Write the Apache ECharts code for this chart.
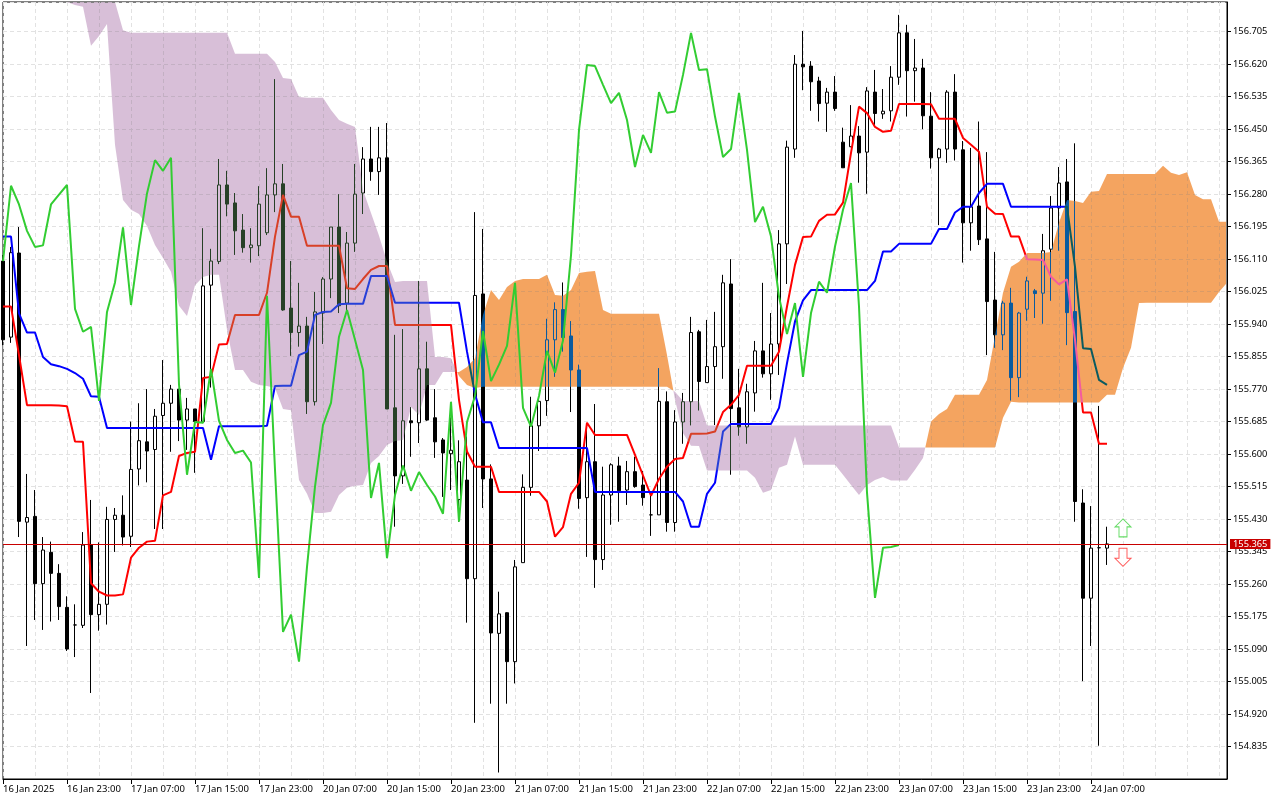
<!DOCTYPE html>
<html><head><meta charset="utf-8">
<style>html,body{margin:0;padding:0;background:#fff}#c{width:1280px;height:800px}</style>
<script src="https://cdn.jsdelivr.net/npm/echarts@6/dist/echarts.min.js"></script>
</head><body><div id="c"></div>
<script>
const timeLabels = ['16 Jan 2025','16 Jan 23:00','17 Jan 07:00','17 Jan 15:00','17 Jan 23:00','20 Jan 07:00','20 Jan 15:00','20 Jan 23:00','21 Jan 07:00','21 Jan 15:00','21 Jan 23:00','22 Jan 07:00','22 Jan 15:00','22 Jan 23:00','23 Jan 07:00','23 Jan 15:00','23 Jan 23:00','24 Jan 07:00'];
const lastPrice = 155.365;
const opens = [156.105,155.906,156.126,155.422,155.437,155.261,155.343,155.288,155.199,155.153,
155.152,155.362,155.180,155.207,155.429,155.440,155.385,155.561,155.632,155.612,
155.701,155.733,155.770,155.689,155.718,155.685,156.042,156.104,156.304,156.257,
156.186,156.140,156.145,156.179,156.278,156.307,155.982,155.918,155.935,155.737,
155.969,156.058,156.194,155.995,156.152,156.283,156.372,156.339,156.375,155.721,
155.543,155.687,155.682,155.823,155.695,155.637,155.601,155.481,155.532,155.274,
156.019,155.535,155.131,155.185,155.057,155.316,155.513,155.674,155.740,155.899,
155.978,155.909,155.820,155.486,155.580,155.324,155.493,155.569,155.506,155.554,
155.519,155.441,155.441,155.737,155.421,155.684,155.737,155.920,155.787,155.829,
155.881,156.045,155.721,155.671,155.760,155.870,155.810,155.888,156.150,156.398,
156.620,156.615,156.576,156.518,156.547,156.416,156.404,156.432,156.390,156.547,
156.490,156.498,156.586,156.702,156.603,156.610,156.484,156.375,156.398,156.547,
156.396,156.205,156.249,156.163,156.003,155.912,155.995,155.800,155.979,156.027,
156.021,156.136,156.244,156.312,155.973,155.472,155.223,155.355,155.354];
const closes = [155.899,156.127,155.424,155.434,155.261,155.349,155.288,155.201,155.090,155.153,
155.362,155.180,155.207,155.429,155.440,155.383,155.560,155.635,155.608,155.699,
155.733,155.770,155.689,155.718,155.685,156.040,156.105,156.304,156.254,156.184,
156.140,156.147,156.254,156.278,156.307,155.977,155.918,155.935,155.737,155.972,
156.058,156.194,155.988,156.152,156.280,156.372,156.339,156.375,155.718,155.543,
155.687,155.682,155.823,155.689,155.632,155.603,155.610,155.580,155.274,156.015,
155.535,155.132,155.182,155.057,155.305,155.513,155.674,155.738,155.899,155.978,
155.905,155.820,155.484,155.580,155.324,155.493,155.572,155.504,155.554,155.515,
155.486,155.441,155.738,155.421,155.684,155.737,155.918,155.790,155.829,155.881,
156.048,155.719,155.671,155.763,155.870,155.810,155.888,156.150,156.403,156.620,
156.613,156.574,156.517,156.547,156.504,156.349,156.432,156.388,156.550,156.491,
156.497,156.586,156.702,156.603,156.610,156.485,156.375,156.398,156.547,156.398,
156.205,156.247,156.161,155.999,155.912,155.995,155.800,155.969,156.053,156.020,
156.132,156.244,156.309,155.970,155.476,155.223,155.354,155.355,155.365];
const highs = [156.121,156.142,156.194,155.548,155.506,155.383,155.371,155.312,155.228,155.207,
155.396,155.480,155.369,155.462,155.459,155.492,155.685,155.733,155.770,155.718,
155.846,155.781,155.770,155.747,155.718,156.191,156.137,156.372,156.341,156.283,
156.228,156.191,156.301,156.348,156.581,156.359,156.105,156.048,155.959,156.024,
156.063,156.194,156.280,156.181,156.359,156.403,156.456,156.456,156.466,155.912,
155.927,155.723,156.053,155.894,155.770,155.642,155.696,155.636,155.646,156.233,
156.189,155.573,155.240,155.186,155.323,155.547,155.750,155.752,155.954,155.997,
156.049,155.948,155.834,155.666,155.731,155.567,155.576,155.593,155.582,155.593,
155.556,155.496,155.825,155.764,155.715,155.760,155.959,155.925,155.951,155.972,
156.069,156.110,155.823,155.784,155.896,156.048,155.969,156.186,156.420,156.644,
156.707,156.628,156.587,156.558,156.589,156.454,156.513,156.458,156.560,156.605,
156.555,156.615,156.749,156.723,156.686,156.634,156.547,156.401,156.552,156.594,
156.419,156.401,156.470,156.390,156.129,156.001,156.035,155.972,156.064,156.032,
156.176,156.275,156.351,156.372,156.413,155.508,155.464,155.726,155.410];
const lows = [155.885,155.891,155.383,155.098,155.166,155.140,155.162,155.166,155.085,155.069,
155.145,154.975,155.138,155.154,155.344,155.361,155.357,155.518,155.526,155.404,
155.404,155.606,155.634,155.611,155.551,155.681,155.774,156.097,156.222,156.121,
156.127,156.101,156.118,156.173,156.233,155.975,155.857,155.881,155.705,155.727,
155.888,156.008,155.969,155.977,156.129,156.228,156.315,156.278,155.718,155.410,
155.522,155.593,155.629,155.687,155.590,155.488,155.506,155.423,155.159,154.897,
155.459,154.947,154.767,154.947,155.000,155.316,155.491,155.608,155.700,155.802,
155.868,155.710,155.457,155.331,155.250,155.297,155.415,155.423,155.467,155.512,
155.465,155.386,155.441,155.397,155.397,155.627,155.675,155.714,155.787,155.676,
155.797,155.546,155.648,155.627,155.711,155.800,155.742,155.807,156.045,156.375,
156.552,156.498,156.470,156.443,156.498,156.349,156.403,156.310,156.281,156.461,
156.477,156.470,156.566,156.483,156.522,156.450,156.347,156.199,156.362,156.368,
156.101,156.132,156.147,155.859,155.878,155.872,155.740,155.749,155.949,155.956,
155.941,156.001,156.132,155.885,155.423,155.006,155.098,154.837,155.310];
const tenkan = [155.986,155.986,155.859,155.728,155.728,155.728,155.728,155.727,155.725,155.633,
155.632,155.262,155.240,155.230,155.230,155.233,155.329,155.355,155.371,155.373,
155.492,155.501,155.595,155.603,155.606,155.799,155.802,155.887,155.888,155.964,
155.964,155.964,155.964,156.022,156.169,156.278,156.221,156.221,156.145,156.145,
156.145,156.145,156.145,156.034,156.032,156.058,156.082,156.092,156.092,155.938,
155.938,155.938,155.938,155.938,155.938,155.938,155.938,155.742,155.607,155.567,
155.567,155.567,155.501,155.501,155.501,155.501,155.501,155.501,155.476,155.384,
155.409,155.496,155.525,155.682,155.650,155.650,155.650,155.650,155.650,155.598,
155.544,155.491,155.535,155.567,155.587,155.590,155.653,155.653,155.654,155.659,
155.710,155.729,155.755,155.831,155.831,155.831,155.831,155.868,155.986,156.095,
156.168,156.169,156.210,156.226,156.227,156.258,156.388,156.509,156.492,156.456,
156.443,156.446,156.516,156.516,156.516,156.516,156.515,156.477,156.477,156.477,
156.427,156.409,156.391,156.247,156.229,156.228,156.169,156.169,156.110,156.109,
156.108,156.064,156.044,156.057,155.899,155.709,155.709,155.627,155.627];
const kijun = [156.169,156.169,155.968,155.918,155.918,155.854,155.835,155.830,155.823,155.812,
155.797,155.751,155.750,155.668,155.668,155.668,155.668,155.668,155.668,155.668,
155.668,155.668,155.668,155.668,155.668,155.668,155.585,155.673,155.673,155.673,
155.673,155.673,155.673,155.674,155.778,155.779,155.779,155.859,155.868,155.964,
155.972,155.973,155.992,155.993,155.993,155.993,156.066,156.066,156.066,155.996,
155.996,155.996,155.996,155.996,155.996,155.996,155.996,155.996,155.868,155.757,
155.683,155.683,155.616,155.616,155.616,155.616,155.616,155.616,155.616,155.616,
155.616,155.616,155.616,155.616,155.501,155.501,155.501,155.501,155.501,155.501,
155.501,155.501,155.501,155.501,155.501,155.476,155.410,155.410,155.496,155.525,
155.659,155.679,155.679,155.679,155.679,155.679,155.679,155.721,155.838,155.947,
156.002,156.029,156.029,156.029,156.029,156.029,156.029,156.029,156.029,156.053,
156.130,156.130,156.150,156.150,156.150,156.150,156.150,156.189,156.189,156.232,
156.247,156.247,156.283,156.307,156.307,156.307,156.247,156.247,156.247,156.247,
156.247,156.247,156.247,156.247,156.090,155.877,155.875,155.794,155.781];
const chikou = [156.105,156.302,156.253,156.184,156.142,156.146,156.253,156.279,156.304,155.980,
155.920,155.933,155.739,155.972,156.049,156.193,155.990,156.144,156.282,156.369,
156.341,156.375,155.782,155.546,155.684,155.682,155.823,155.687,155.637,155.603,
155.609,155.578,155.276,156.014,155.559,155.135,155.180,155.057,155.305,155.515,
155.676,155.734,155.907,155.977,155.899,155.820,155.485,155.577,155.328,155.493,
155.570,155.504,155.553,155.519,155.489,155.444,155.737,155.423,155.684,155.752,
155.922,155.791,155.834,155.883,156.048,155.721,155.672,155.752,155.870,155.813,
155.897,156.120,156.448,156.618,156.615,156.566,156.518,156.545,156.474,156.351,
156.435,156.388,156.547,156.493,156.496,156.592,156.702,156.605,156.607,156.483,
156.377,156.398,156.545,156.396,156.207,156.247,156.169,156.012,155.914,155.995,
155.802,155.969,156.051,156.022,156.143,156.239,156.309,155.986,155.499,155.224,
155.355,155.357,155.362];
// Senkou spans start at bar 8 (earlier bars lie above the visible price range).
const spanStart = 8;
const spanA = [156.785,156.775,156.770,156.668,156.694,156.725,156.409,156.265,156.239,156.228,156.197,156.147,
156.113,156.077,155.988,155.961,156.042,156.063,156.069,156.069,155.925,155.820,155.820,155.789,
155.781,155.778,155.773,155.718,155.715,155.532,155.496,155.446,155.446,155.449,155.493,155.512,
155.517,155.519,155.577,155.595,155.624,155.634,155.637,155.723,155.702,155.781,155.781,155.815,155.815,
155.815,155.828,155.851,155.964,156.029,156.003,156.037,156.053,156.058,156.058,156.058,156.069,
156.016,156.014,156.029,156.074,156.077,156.079,155.977,155.967,155.967,155.967,155.967,155.967,155.967,155.967,155.859,
155.742,155.655,155.622,155.621,155.557,155.557,155.557,155.557,155.557,155.557,155.538,155.499,155.506,155.564,155.572,
155.646,155.572,155.572,155.572,155.572,155.572,155.546,155.519,155.493,155.519,155.532,155.540,155.531,155.531,155.531,155.559,155.590,
155.685,155.705,155.718,155.755,155.755,155.755,155.755,155.794,155.909,156.022,156.090,156.103,156.126,156.126,156.126,156.129,
156.205,156.265,156.262,156.257,156.286,156.288,156.333,156.333,156.333,156.333,156.333,156.333,156.333,156.354,156.336,156.330,156.337,156.278,156.267,156.267,156.208,156.208];
const spanB = [156.814,156.814,156.814,156.814,156.814,156.814,156.801,156.709,156.702,156.702,
156.702,156.702,156.702,156.702,156.702,156.702,156.702,156.702,156.702,156.702,
156.702,156.647,156.647,156.647,156.647,156.647,156.626,156.584,156.581,156.534,
156.532,156.532,156.532,156.500,156.474,156.464,156.456,156.291,156.231,156.171,
156.103,156.050,156.053,156.053,156.053,156.053,155.854,155.854,155.851,155.804,
155.781,155.773,155.776,155.776,155.776,155.776,155.776,155.776,155.776,155.776,
155.776,155.776,155.776,155.776,155.776,155.776,155.776,155.776,155.776,155.776,
155.776,155.776,155.776,155.776,155.776,155.776,155.763,155.739,155.739,155.739,
155.675,155.675,155.675,155.675,155.675,155.675,155.675,155.675,155.675,155.675,
155.675,155.675,155.675,155.675,155.675,155.675,155.675,155.675,155.675,155.675,
155.675,155.675,155.675,155.675,155.617,155.617,155.617,155.617,155.617,155.617,
155.617,155.617,155.617,155.617,155.617,155.617,155.617,155.695,155.737,155.735,
155.735,155.735,155.735,155.735,155.735,155.735,155.735,155.735,155.735,155.735,
155.755,155.755,155.825,155.878,155.995,155.996,155.996,155.996,155.996,155.996,
155.996,155.996,155.996,155.996,156.024,156.048];
const BARS_TOTAL = spanStart + spanA.length;
const categories = Array.from({length: BARS_TOTAL}, (_, i) => (i % 8 === 0 && timeLabels[i / 8]) || '');
const candles = opens.map((o, i) => [o, closes[i], lows[i], highs[i]]);

// Split the cloud into runs of one sign; where the spans swap, close at their crossing.
const runs = [];
(function () {
  let cur = null;
  for (let k = 0; k < spanA.length; k++) {
    const up = spanA[k] > spanB[k];
    const pt = {f: k + spanStart, a: spanA[k], b: spanB[k]};
    if (!cur) { cur = {up, pts: [pt]}; runs.push(cur); continue; }
    if (cur.up !== up) {
      const d0 = spanA[k - 1] - spanB[k - 1], d1 = spanA[k] - spanB[k];
      const t = d0 / (d0 - d1), v = spanA[k - 1] + t * (spanA[k] - spanA[k - 1]);
      const cross = {f: k - 1 + spanStart + t, a: v, b: v};
      cur.pts.push(cross);
      cur = {up, pts: [cross]}; runs.push(cur);
    }
    cur.pts.push(pt);
  }
})();
function renderCloud(params, api) {
  const run = runs[params.dataIndex], cs = params.coordSys;
  const x0 = api.coord([0, 156])[0], step = api.coord([1, 156])[0] - x0;
  const yc = v => Math.max(api.coord([0, v])[1], cs.y);
  const top = run.pts.map(p => [x0 + p.f * step, yc(Math.max(p.a, p.b))]);
  const bot = run.pts.map(p => [x0 + p.f * step, yc(Math.min(p.a, p.b))]).reverse();
  return {type: 'polygon', shape: {points: top.concat(bot)},
    style: {fill: run.up ? '#0B5B9F' : '#274027', stroke: null}};
}
const FONT = 'Noto Sans';
const arrowUp = 'path://M8,0 L16,8 L12,8 L12,18 L4,18 L4,8 L0,8 Z';
const arrowDown = 'path://M4,0 L12,0 L12,10 L16,10 L8,18 L0,10 L4,10 Z';
const lineS = (name, data, color, z) => ({name, type: 'line', data, z, showSymbol: false, symbol: 'none', silent: true,
  lineStyle: {color, width: 2}, itemStyle: {color}, animation: false});
const chart = echarts.init(document.getElementById('c'), null, {renderer: 'canvas'});
chart.setOption({
  animation: false, backgroundColor: '#fff', tooltip: {show: false}, legend: {show: false},
  grid: {left: 2, top: 2, width: 1225, height: 777, show: true, borderColor: '#000', borderWidth: 1, backgroundColor: 'transparent'},
  xAxis: {type: 'category', boundaryGap: false, data: categories,
    axisLine: {show: true, lineStyle: {color: '#000', width: 1}},
    axisTick: {show: true, length: 5, lineStyle: {color: '#000'}, interval: i => i % 8 === 0 && i <= 136},
    axisLabel: {interval: i => i % 8 === 0 && i <= 136, hideOverlap: false, showMinLabel: true, align: 'left', margin: 5, color: '#000', fontFamily: FONT, fontSize: 9.5},
    splitLine: {show: true, interval: i => i % 4 === 0, lineStyle: {color: '#e2e2e2', type: [4, 3], width: 1}}},
  yAxis: {type: 'value', position: 'right', min: 154.75, max: 156.7827, interval: 0.085, scale: true,
    axisLine: {show: true, onZero: false, lineStyle: {color: '#000', width: 1}},
    axisTick: {show: true, length: 4, lineStyle: {color: '#000'}},
    axisLabel: {showMinLabel: false, showMaxLabel: false, margin: 6, color: '#000', fontFamily: FONT, fontSize: 9.3, formatter: v => v.toFixed(3)},
    splitLine: {show: true, lineStyle: {color: '#e2e2e2', type: [4, 3], width: 1}}},
  series: [
    {name: 'Price', type: 'candlestick', data: candles, z: 2, barWidth: 4, silent: true, clip: true,
     itemStyle: {color: '#fff', color0: '#000', borderColor: '#000', borderColor0: '#000', borderColorDoji: '#000', borderWidth: 1},
     markLine: {symbol: 'none', silent: true, animation: false, z: 9, precision: 3, data: [{yAxis: lastPrice}],
       lineStyle: {color: '#c80000', width: 1, type: 'solid'},
       label: {position: 'end', distance: 3, formatter: lastPrice.toFixed(3), color: '#fff', backgroundColor: '#c80000', padding: [0, 3, 0, 3], lineHeight: 10, fontFamily: FONT, fontSize: 9.3}}},
    lineS('Tenkan', tenkan, '#ff0000', 3),
    lineS('Kijun', kijun, '#0000ff', 3),
    {name: 'Cloud', type: 'custom', z: 4, silent: true, clip: true, blendMode: 'exclusion', renderItem: renderCloud, data: runs.map((r, k) => [k, 156])},
    lineS('Chikou', chikou, '#32cd32', 5),
    {name: 'Signals', type: 'scatter', z: 6, silent: true,
     data: [{value: [140, 155.407], symbol: arrowUp, symbolSize: [16, 18], itemStyle: {color: '#fff', borderColor: '#3fd23f', borderWidth: 1}},
            {value: [140, 155.330], symbol: arrowDown, symbolSize: [16, 18], itemStyle: {color: '#fff', borderColor: '#ff2a2a', borderWidth: 1}}]}
  ]
});
</script></body></html>
